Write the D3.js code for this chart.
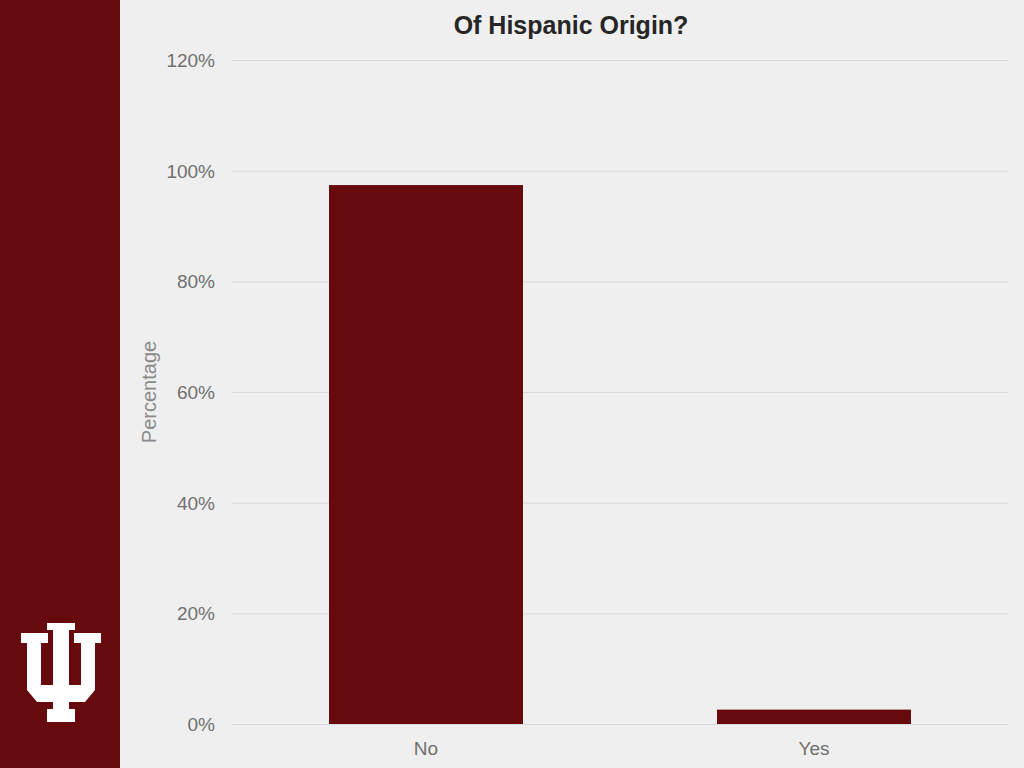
<!DOCTYPE html>
<html><head><meta charset="utf-8">
<script src="https://cdn.jsdelivr.net/npm/d3@7"></script>
<style>html,body{margin:0;padding:0;background:#efefef;}svg{display:block;}</style>
</head><body>
<svg id="c" width="1024" height="768"></svg>
<script>
const categories = ["No", "Yes"];
const values = [97.4, 2.6];
const yTicks = [0, 20, 40, 60, 80, 100, 120];
const title = "Of Hispanic Origin?";
const yTitle = "Percentage";

const svg = d3.select("#c");
const font = "'Liberation Sans', Arial, Helvetica, sans-serif";
svg.append("rect").attr("x",0).attr("y",0).attr("width",1024).attr("height",768).attr("fill","#efefef");
svg.append("rect").attr("x",0).attr("y",0).attr("width",120).attr("height",768).attr("fill","#660a0e");

// IU logo
svg.append("path")
  .attr("d","M47,623 H75 V630 H69 V685 H81 V643 H74 V633 H101 V643 H95 V690 L85,702 H69 V709 H75 V722 H47 V709 H53 V702 H37 L27,690 V643 H21 V633 H48 V643 H41 V685 H53 V630 H47 Z")
  .attr("fill","#ffffff");

const x = d3.scaleBand().domain(categories).range([232,1008]).paddingInner(0.5).paddingOuter(0.25);
const y = d3.scaleLinear().domain([0,120]).range([724,60]);

const grid = svg.append("g");
grid.selectAll("line").data(yTicks).join("line")
  .attr("x1",232).attr("x2",1008)
  .attr("y1",d=>y(d)+0.5).attr("y2",d=>y(d)+0.5)
  .attr("stroke","#dadada").attr("stroke-width",1);

const yAxis = d3.axisLeft(y).tickValues(yTicks).tickFormat(d=>d+"%").tickSize(0).tickPadding(0);
const ya = svg.append("g").attr("transform","translate(215,0)").call(yAxis);
ya.select(".domain").remove();
ya.selectAll("text").attr("font-family",font).attr("font-size",19).attr("fill","#707070").attr("dy","0.35em");

svg.append("g").selectAll("rect").data(categories).join("rect")
  .attr("x",d=>x(d)).attr("width",x.bandwidth())
  .attr("y",(d,i)=>y(values[i])).attr("height",(d,i)=>y(0)-y(values[i]))
  .attr("fill","#660a0e");

const xAxis = d3.axisBottom(x).tickSize(0).tickPadding(0);
const xa = svg.append("g").attr("transform","translate(0,748)").call(xAxis);
xa.select(".domain").remove();
xa.selectAll("text").attr("font-family",font).attr("font-size",19).attr("fill","#707070").attr("dy","0.35em");

svg.append("text").attr("x",571).attr("y",34).attr("text-anchor","middle")
  .attr("font-family",font).attr("font-weight","bold").attr("font-size",25).attr("fill","#262626").text(title);

svg.append("text").attr("transform","translate(156,392) rotate(-90)").attr("text-anchor","middle")
  .attr("font-family",font).attr("font-size",20).attr("fill","#8a8a8a").text(yTitle);
</script>
</body></html>
